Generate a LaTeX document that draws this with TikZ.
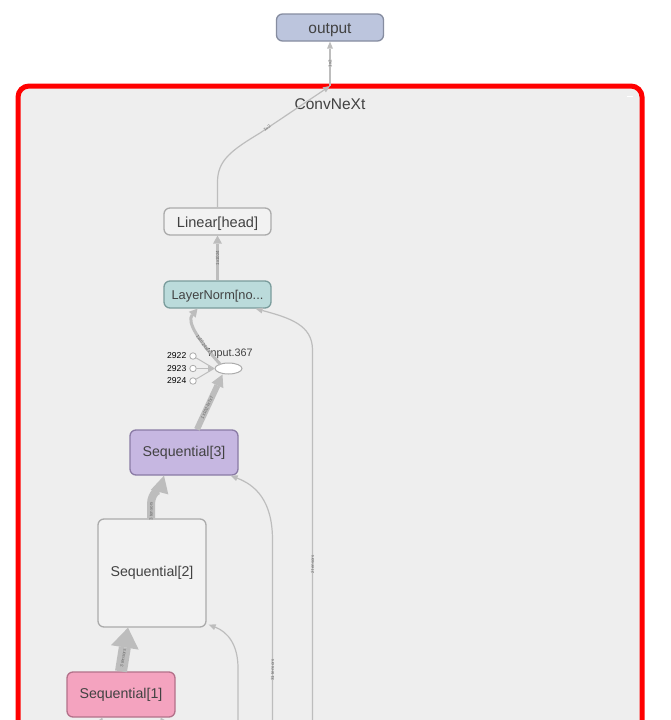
\documentclass[tikz,border=0pt]{standalone}
\usepackage{fontspec}
\setmainfont{Liberation Sans}
\usetikzlibrary{arrows.meta,calc,shapes.geometric}
\definecolor{edgec}{HTML}{BDBDBD}
\definecolor{txt}{HTML}{424242}
\definecolor{boxbg}{HTML}{EEEEEE}
\definecolor{outfill}{HTML}{BCC5DD}\definecolor{outline}{HTML}{868DA0}
\definecolor{lnfill}{HTML}{BBDBDB}\definecolor{lnline}{HTML}{7A9C9C}
\definecolor{s3fill}{HTML}{C6B7E1}\definecolor{s3line}{HTML}{8A7BA5}
\definecolor{s1fill}{HTML}{F4A3BF}\definecolor{s1line}{HTML}{B3718A}
\definecolor{plainfill}{HTML}{F2F2F2}\definecolor{plainline}{HTML}{ABABAB}
\begin{document}
\begin{tikzpicture}[x=1pt,y=-1pt,
  opnode/.style={draw, line width=1.3pt, rounded corners=6pt, inner sep=0pt,
    text=txt, minimum width=107pt},
  flow/.style={draw=edgec, line width=1.2pt,
    -{Triangle[length=7pt,width=6pt,line width=0pt]}},
  elabel/.style={font=\fontsize{4.5}{5}\selectfont, text=txt!80, inner sep=0.5pt,
    sloped},
  consttag/.style={circle, draw=plainline, fill=white, line width=0.8pt,
    minimum size=6.5pt, inner sep=0pt},
  constlabel/.style={font=\fontsize{8.6}{9}\selectfont, text=black, anchor=east, inner sep=0pt}
]
\useasboundingbox (0,0) rectangle (671,720);
\clip (0,0) rectangle (671,720);
\fill[white] (0,0) rectangle (671,720);

% ConvNeXt group
\node[draw=red, line width=5pt, fill=boxbg, rounded corners=11pt,
  minimum width=624pt, minimum height=660pt, inner sep=0pt] (convnext) at (330,416) {};
\node[font=\fontsize{15.5}{16}\selectfont, text=txt] (title) at (330,104.5) {ConvNeXt};
\draw[white, line width=1.2pt] (627,96.5) -- (633,96.5);

% operation nodes
\node[opnode, draw=outline, fill=outfill, minimum height=27pt,
  text height=13pt, text depth=1pt,
  font=\fontsize{15.5}{16}\selectfont] (output) at (330,27.5) {output};
\node[opnode, draw=plainline, fill=plainfill, minimum height=27pt,
  text height=12.5pt, text depth=1.5pt,
  font=\fontsize{14.6}{15}\selectfont] (linear) at (217.5,221.5) {Linear[head]};
\node[opnode, draw=lnline, fill=lnfill, minimum height=27pt,
  text height=10.5pt, text depth=1.5pt,
  font=\fontsize{12.8}{13}\selectfont] (layer) at (217.5,294.5) {LayerNorm[no...};
\node[opnode, draw=s3line, fill=s3fill, minimum width=108pt, minimum height=45pt,
  font=\fontsize{14.2}{15}\selectfont] (seqthree) at (184,452.5) {Sequential[3]};
\node[opnode, draw=plainline, fill=plainfill, minimum width=108pt, minimum height=108pt,
  font=\fontsize{14.2}{15}\selectfont] (seqtwo) at (152,573) {Sequential[2]};
\node[opnode, draw=s1line, fill=s1fill, minimum width=108pt, minimum height=45pt,
  font=\fontsize{14.2}{15}\selectfont] (seqone) at (121,694.5) {Sequential[1]};

% flatten op with its constant inputs
\node[ellipse, draw=plainline, fill=white, line width=1pt, minimum width=27pt,
  minimum height=11pt, inner sep=0pt] (flat) at (228.5,368.5) {};
\node[font=\fontsize{10.8}{11}\selectfont, text=txt] (flatlabel) at (230.5,354) {input.367};
\node[consttag] (c1) at (193,356) {};
\node[consttag] (c2) at (193,368.5) {};
\node[consttag] (c3) at (193,381) {};
\node[constlabel] (l1) at (186.5,356) {2922};
\node[constlabel] (l2) at (186.5,368.5) {2923};
\node[constlabel] (l3) at (186.5,381) {2924};
\coordinate (merge) at (214,368.5);
\draw[draw=edgec, line width=1pt] (c1) -- (merge);
\draw[draw=edgec, line width=1pt] (c3) -- (merge);
\draw[draw=edgec, line width=1pt, -{Triangle[length=6pt,width=6pt,line width=0pt]}] (c2) -- (merge);

% edges leaving the group
\coordinate (gtop) at (330,86);
\draw[flow] (gtop) -- node[elabel, pos=0.5] {1x2} (output);
\draw[flow] (linear.north) -- (217.5,182)
  .. controls (217.5,160) and (232,150) .. (260,133)
  -- node[elabel, pos=0.1] {1x2} (gtop);

% data edges
\draw[draw=edgec, line width=3pt, -{Triangle[length=8pt,width=9pt,line width=0pt]}]
  (layer.north) -- node[elabel] {1x1024} (linear.south);
\draw[draw=edgec, line width=3pt, -{Triangle[length=8pt,width=9pt,line width=0pt]}]
  ($(flat.west)+(6,-4)$) .. controls (200,342) and (186,322)
  .. node[elabel, pos=0.3] {1x1024x1x1} ($(layer.south)+(-20,0)$);
\draw[draw=edgec, line width=6pt, -{Triangle[length=12pt,width=13pt,line width=0pt]}]
  ($(seqthree.north)+(13,0)$) -- node[elabel, pos=0.4] {1x1024x7x7} ($(flat.south)+(-6,0)$);
\draw[draw=edgec, line width=8pt, -{Triangle[length=17pt,width=18pt,line width=0pt]}]
  ($(seqtwo.north)+(-1,0)$) -- node[elabel, pos=0.5] {3 tensors} ++(0,-14)
  to[out=90,in=255] ($(seqthree.south)+(-20,0)$);
\draw[draw=edgec, line width=12pt, -{Triangle[length=20pt,width=28pt,line width=0pt]}]
  (seqone.north) -- node[elabel, pos=0.3] {3 tensors} ($(seqtwo.south)+(-24,0)$);

% long skip connections entering from below
\coordinate (b31) at (272.5,740);
\coordinate (b2) at (312.5,740);
\coordinate (bseq) at (238,740);
\draw[flow] (b31) -- node[elabel, pos=0.35] {31 tensors} (272.5,540)
  .. controls (272.5,500) and (255,485) .. ($(seqthree.south east)+(-8,0)$);
\draw[flow] (b2) -- node[elabel, pos=0.45] {2 tensors} (312.5,350)
  .. controls (312.5,325) and (290,318) .. ($(layer.south east)+(-16,0)$);
\draw[flow] (bseq) -- (238,668)
  .. controls (238,645) and (228,632) .. ($(seqtwo.south east)+(2,-3)$);

% inputs of Sequential[1] from below the view
\coordinate (in1) at (98,728);
\coordinate (in2) at (166,728);
\draw[draw=edgec, line width=3pt, -{Triangle[length=7pt,width=9pt,line width=0pt]}]
  (in1) -- ($(seqone.south west)+(36,0)$);
\draw[draw=edgec, line width=3pt, -{Triangle[length=7pt,width=9pt,line width=0pt]}]
  (in2) -- ($(seqone.south east)+(-15,0)$);
\end{tikzpicture}
\end{document}
